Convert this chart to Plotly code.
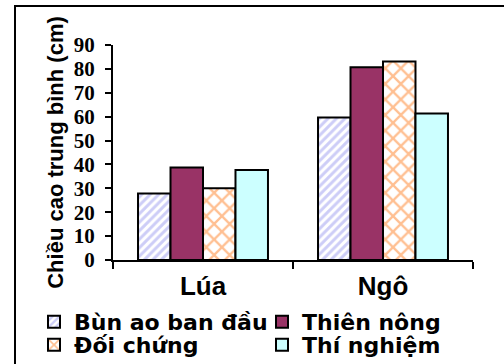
import plotly.graph_objects as go

# Crop categories and average plant height (cm) per treatment
crops = ["Lúa", "Ngô"]
bun_ao_ban_dau = [27.8, 59.6]
thien_nong = [38.7, 80.7]
doi_chung = [30.0, 83.1]
thi_nghiem = [37.7, 61.3]

y_ticks = [0, 10, 20, 30, 40, 50, 60, 70, 80, 90]
y_title = "Chiều cao trung bình (cm)"

W, H = 504, 364
L, R, T, B = 113, 31, 45, 104
plot_w = W - L - R
plot_h = H - T - B

SANS = "Liberation Sans"
SERIF = "Liberation Serif"


def px_to_paper_x(px):
    return (px - L) / plot_w


def px_to_paper_y(py):
    return (H - B - py) / plot_h


outline = dict(color="black", width=2)
legend_font = dict(family="DejaVu Sans", size=22, color="black", weight="bold")

fig = go.Figure()
fig.add_trace(go.Bar(
    name="Bùn ao ban đầu", x=crops, y=bun_ao_ban_dau, legend="legend",
    marker=dict(color="white", line=outline,
                pattern=dict(shape="/", fgcolor="#9c9cf0", bgcolor="white",
                             size=6, solidity=0.5)),
))
fig.add_trace(go.Bar(
    name="Thiên nông", x=crops, y=thien_nong, legend="legend2",
    marker=dict(color="#993366", line=outline),
))
fig.add_trace(go.Bar(
    name="Đối chứng", x=crops, y=doi_chung, legend="legend3",
    marker=dict(color="white", line=outline,
                pattern=dict(shape="x", fgcolor="#ff7f24", bgcolor="white",
                             size=11, solidity=0.38)),
))
fig.add_trace(go.Bar(
    name="Thí nghiệm", x=crops, y=thi_nghiem, legend="legend4",
    marker=dict(color="#ccffff", line=outline),
))

# One single-entry legend per slot of the 2x2 key grid
legend_common = dict(
    orientation="h", xanchor="left", yanchor="middle",
    font=legend_font, bgcolor="rgba(0,0,0,0)",
    itemclick=False, itemdoubleclick=False,
)
col_x = [34, 262]
row_y = [322, 345]

fig.update_layout(
    width=W, height=H,
    margin=dict(l=L, r=R, t=T, b=B, pad=0, autoexpand=False),
    paper_bgcolor="white", plot_bgcolor="white",
    barmode="group", bargap=0.278, bargroupgap=0,
    showlegend=True,
    legend=dict(x=px_to_paper_x(col_x[0]), y=px_to_paper_y(row_y[0]), **legend_common),
    legend2=dict(x=px_to_paper_x(col_x[1]), y=px_to_paper_y(row_y[0]), **legend_common),
    legend3=dict(x=px_to_paper_x(col_x[0]), y=px_to_paper_y(row_y[1]), **legend_common),
    legend4=dict(x=px_to_paper_x(col_x[1]), y=px_to_paper_y(row_y[1]), **legend_common),
    xaxis=dict(
        type="category", showline=True, linecolor="black", linewidth=2,
        ticks="outside", tickson="boundaries", ticklen=7, tickwidth=2,
        tickcolor="black", showgrid=False, ticklabelstandoff=2,
        tickfont=dict(family=SANS, size=26, color="black", weight="bold"),
    ),
    yaxis=dict(
        range=[0, 90], tickvals=y_ticks, ticktext=[str(v) for v in y_ticks],
        showline=True, linecolor="black", linewidth=2,
        ticks="outside", ticklen=6, tickwidth=2, tickcolor="black",
        showgrid=False, zeroline=False, ticklabelstandoff=6,
        tickfont=dict(family=SERIF, size=21, color="black", weight="bold"),
        title=dict(text=y_title, standoff=4,
                   font=dict(family=SANS, size=22, color="black", weight="bold")),
    ),
    shapes=[dict(
        type="rect", xref="paper", yref="paper", layer="below",
        x0=px_to_paper_x(15), x1=px_to_paper_x(W + 20),
        y0=px_to_paper_y(H + 20), y1=px_to_paper_y(6),
        line=dict(color="black", width=2), fillcolor="rgba(0,0,0,0)",
    )],
)

fig.write_html("out.html")
